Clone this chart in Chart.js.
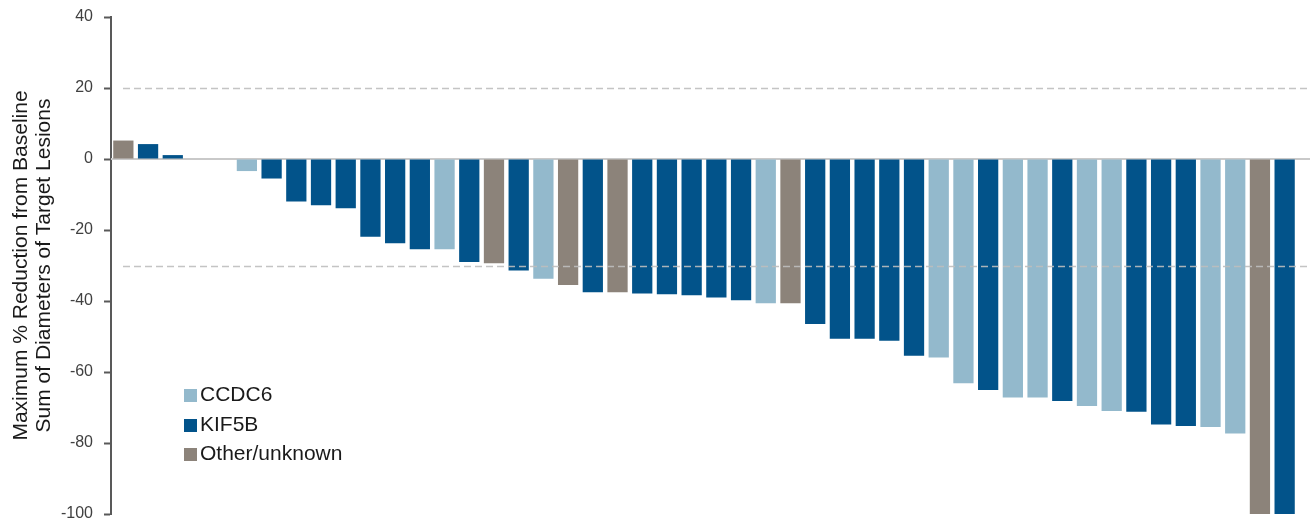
<!DOCTYPE html>
<html>
<head>
<meta charset="utf-8">
<script src="https://cdn.jsdelivr.net/npm/chart.js@4.4.0/dist/chart.umd.min.js"></script>
<style>
    body { margin: 0; background: #fff; }
    #wrap { position: relative; width: 1313px; height: 528px; }
    #legend { position: absolute; left: 184px; top: 383px; font-family: "Liberation Sans", Arial, sans-serif; font-size: 21px; color: #1a1a1a; }
    #legend div { height: 29.5px; line-height: 22px; white-space: nowrap; }
    #legend span { display: inline-block; width: 13px; height: 13px; margin-right: 3px; vertical-align: -1px; }
</style>
</head>
<body>
<div id="wrap">
    <canvas id="waterfall" width="1313" height="528"></canvas>
    <div id="legend"></div>
</div>
<script>
// 환자별 최대 감소율 (%), 그림에서 읽은 값
const patients = [];
const changes = [
    5.2, 4.2, 1.1, 0, 0, -3.4, -5.5, -12, -13, -13.9,
    -21.9, -23.7, -25.4, -25.4, -29, -29.4, -31.4, -33.7, -35.5, -37.5,
    -37.5, -37.9, -38.1, -38.4, -39, -39.8, -40.6, -40.6, -46.5, -50.6,
    -50.6, -51.2, -55.4, -55.9, -63.2, -65.1, -67.2, -67.2, -68.2, -69.6,
    -71.0, -71.2, -74.8, -75.2, -75.5, -77.3, -100, -100
];
// 융합 파트너: C = CCDC6, K = KIF5B, O = Other/unknown
const partners = [
    'O', 'K', 'K', 'K', 'K', 'C', 'K', 'K', 'K', 'K',
    'K', 'K', 'K', 'C', 'K', 'O', 'K', 'C', 'O', 'K',
    'O', 'K', 'K', 'K', 'K', 'K', 'C', 'O', 'K', 'K',
    'K', 'K', 'K', 'C', 'C', 'K', 'C', 'C', 'K', 'C',
    'C', 'K', 'K', 'K', 'C', 'C', 'O', 'K'
];
const legendNames = ['CCDC6', 'KIF5B', 'Other/unknown'];
const legendKeys = ['C', 'K', 'O'];
const partnerColors = { C: '#93b9cc', K: '#02538a', O: '#8c837a' };
const yTicks = [40, 20, 0, -20, -40, -60, -80, -100];
const refLines = [20, -30];

changes.forEach((v, i) => patients.push('P' + (i + 1)));

// 기준선(0)과 점선(20, -30) 그리기
const refLinePlugin = {
    id: 'refLines',
    beforeDatasetsDraw(chart) {
        const { ctx, chartArea, scales } = chart;
        const y0 = scales.y.getPixelForValue(0);
        ctx.save();
        ctx.strokeStyle = '#c9c9c9';
        ctx.lineWidth = 2;
        ctx.beginPath();
        ctx.moveTo(chartArea.left, y0);
        ctx.lineTo(chart.width - 3, y0);
        ctx.stroke();
        ctx.restore();
    },
    afterDatasetsDraw(chart) {
        const { ctx, chartArea, scales } = chart;
        ctx.save();
        ctx.strokeStyle = 'rgba(190,190,190,0.9)';
        ctx.lineWidth = 1.3;
        ctx.setLineDash([7, 4]);
        refLines.forEach(v => {
            const y = Math.round(scales.y.getPixelForValue(v)) + 0.5;
            ctx.beginPath();
            ctx.moveTo(chartArea.left + 12, y);
            ctx.lineTo(chart.width - 3, y);
            ctx.stroke();
        });
        ctx.restore();
    }
};

const ctx = document.getElementById('waterfall').getContext('2d');
new Chart(ctx, {
    type: 'bar',
    data: {
        labels: patients,
        datasets: [{
            data: changes,
            backgroundColor: partners.map(p => partnerColors[p]),
            borderWidth: 0,
            barPercentage: 0.82,
            categoryPercentage: 1.0
        }]
    },
    options: {
        responsive: false,
        animation: false,
        layout: { padding: { top: 17, bottom: 14, right: 16, left: 0 } },
        plugins: {
            legend: { display: false },
            tooltip: { enabled: false }
        },
        scales: {
            x: { display: false },
            y: {
                min: -100,
                max: 40,
                afterBuildTicks: axis => { axis.ticks = yTicks.map(v => ({ value: v })); },
                afterFit: axis => {
                    axis.width = 111;
                    axis.paddingTop = 0; // 눈금 글자 여백 제거 (layout padding 사용)
                    axis.paddingBottom = 0;
                },
                border: { display: true, color: '#595959', width: 2 },
                grid: { drawOnChartArea: false, color: '#595959', tickLength: 7, tickWidth: 2 },
                ticks: {
                    padding: 11,
                    color: '#404040',
                    font: { family: '"Liberation Sans", Arial, sans-serif', size: 16 }
                },
                title: {
                    display: true,
                    text: ['Maximum % Reduction from Baseline', 'Sum of Diameters of Target Lesions'],
                    color: '#1a1a1a',
                    padding: { top: 10, bottom: 0 },
                    font: { family: '"Liberation Sans", Arial, sans-serif', size: 21, lineHeight: 1.1 }
                }
            }
        }
    },
    plugins: [refLinePlugin]
});

// 범례 생성
const $legend = document.getElementById('legend');
legendNames.forEach((name, i) => {
    const row = document.createElement('div');
    row.innerHTML = '<span style="background:' + partnerColors[legendKeys[i]] + '"></span>' + name;
    $legend.appendChild(row);
});
</script>
</body>
</html>
